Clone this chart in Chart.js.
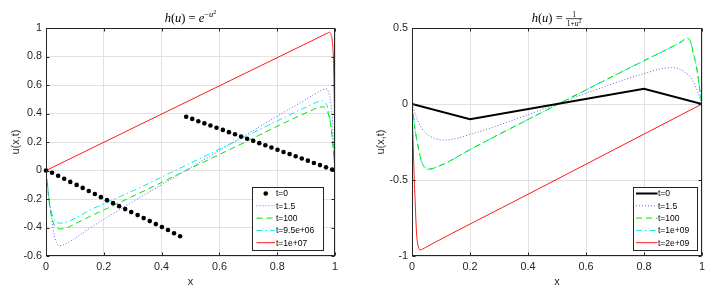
<!DOCTYPE html>
<html lang="en">
<head>
<meta charset="UTF-8" />
<title>u(x,t) profiles</title>
<script src="https://cdn.jsdelivr.net/npm/chart.js"></script>
<style>
  html, body { margin: 0; padding: 0; background: #fff; }
  .row { display: flex; width: 720px; height: 293px; }
  .row canvas { display: block; }
</style>
</head>
<body>
<div class="row">
  <canvas id="leftChart" width="360" height="293"></canvas>
  <canvas id="rightChart" width="360" height="293"></canvas>
</div>
<script>
// ---- axes ----
const xTicks = [0, 0.2, 0.4, 0.6, 0.8, 1];
const xTickLabels = ["0", "0.2", "0.4", "0.6", "0.8", "1"];
const yTicksLeft = [-0.6, -0.4, -0.2, 0, 0.2, 0.4, 0.6, 0.8, 1];
const yTickLabelsLeft = ["-0.6", "-0.4", "-0.2", "0", "0.2", "0.4", "0.6", "0.8", "1"];
const yTicksRight = [-1, -0.5, 0, 0.5];
const yTickLabelsRight = ["-1", "-0.5", "0", "0.5"];

const labelsLeft = ["t=0", "t=1.5", "t=100", "t=9.5e+06", "t=1e+07"];
const labelsRight = ["t=0", "t=1.5", "t=100", "t=1e+09", "t=2e+09"];

// ---- left panel, h(u) = exp(-u^2) ----
const l0X = [0, 0.021, 0.042, 0.063, 0.084, 0.106, 0.127, 0.148, 0.169, 0.19, 0.211, 0.232, 0.253, 0.274, 0.295, 0.317, 0.338, 0.359, 0.38, 0.401, 0.422, 0.443, 0.464,
             0.485, 0.506, 0.527, 0.548, 0.569, 0.59, 0.612, 0.633, 0.654, 0.675, 0.696, 0.717, 0.738, 0.759, 0.78, 0.801, 0.822, 0.843, 0.864, 0.885, 0.906, 0.927, 0.948, 0.969, 0.99];
const l0Y = [0, -0.016, -0.037, -0.058, -0.08, -0.101, -0.122, -0.144, -0.165, -0.187, -0.208, -0.229, -0.25, -0.271, -0.292, -0.313, -0.334, -0.355, -0.376, -0.397, -0.418, -0.44, -0.461,
             0.377, 0.362, 0.346, 0.331, 0.316, 0.3, 0.285, 0.269, 0.254, 0.238, 0.223, 0.208, 0.192, 0.177, 0.161, 0.146, 0.13, 0.115, 0.1, 0.084, 0.069, 0.053, 0.038, 0.022, 0.007];

const l1X = [0, 0.004, 0.011, 0.02, 0.028, 0.036, 0.046, 0.06, 0.075, 0.095, 0.12, 0.152, 0.21, 0.325, 0.5, 0.7, 0.81, 0.9, 0.94, 0.958, 0.968, 0.977, 0.984, 0.99, 0.995, 1];
const l1Y = [0, -0.08, -0.2, -0.34, -0.45, -0.505, -0.527, -0.522, -0.507, -0.482, -0.448, -0.405, -0.33, -0.19, 0.02, 0.26, 0.393, 0.5, 0.548, 0.568, 0.573, 0.555, 0.5, 0.38, 0.2, 0];

const l2X = [0, 0.004, 0.008, 0.014, 0.02, 0.028, 0.038, 0.05, 0.062, 0.08, 0.1, 0.13, 0.17, 0.22, 0.325, 0.5, 0.7, 0.81, 0.9, 0.94, 0.96, 0.97, 0.978, 0.985, 0.991, 0.996, 1];
const l2Y = [0, -0.08, -0.17, -0.27, -0.33, -0.38, -0.403, -0.41, -0.408, -0.395, -0.375, -0.345, -0.305, -0.258, -0.157, 0.015, 0.21, 0.32, 0.405, 0.44, 0.447, 0.43, 0.39, 0.32, 0.22, 0.1, 0];

const l3X = [0, 0.004, 0.008, 0.014, 0.02, 0.028, 0.038, 0.05, 0.065, 0.085, 0.11, 0.15, 0.21, 0.325, 0.5, 0.7, 0.81, 0.9, 0.94, 0.954, 0.965, 0.975, 0.983, 0.99, 0.995, 1];
const l3Y = [0, -0.07, -0.157, -0.24, -0.3, -0.345, -0.365, -0.37, -0.365, -0.35, -0.325, -0.28, -0.225, -0.12, 0.052, 0.249, 0.358, 0.445, 0.482, 0.49, 0.48, 0.44, 0.36, 0.24, 0.12, 0];

const l4X = [0, 0.5, 0.975, 0.98, 0.986, 0.991, 0.995, 0.998, 1];
const l4Y = [0, 0.495, 0.965, 0.97, 0.955, 0.9, 0.75, 0.4, 0];

// ---- right panel, h(u) = 1/(1+u^2) ----
const r0X = [0, 0.2, 0.8, 1];
const r0Y = [0, -0.1, 0.1, 0];

const r1X = [0, 0.01, 0.02, 0.033, 0.056, 0.08, 0.108, 0.14, 0.2, 0.252, 0.35, 0.5, 0.65, 0.748, 0.8, 0.86, 0.895, 0.92, 0.944, 0.959, 0.975, 0.987, 0.995, 1];
const r1Y = [0, -0.06, -0.11, -0.16, -0.204, -0.228, -0.237, -0.232, -0.2, -0.17, -0.105, 0, 0.105, 0.17, 0.2, 0.232, 0.239, 0.232, 0.205, 0.18, 0.13, 0.07, 0.03, 0];

const r2X = [0, 0.005, 0.01, 0.016, 0.022, 0.033, 0.045, 0.056, 0.07, 0.09, 0.12, 0.2, 0.5, 0.8, 0.88, 0.91, 0.93, 0.947, 0.958, 0.965, 0.97, 0.977, 0.984, 0.991, 0.997, 1];
const r2Y = [0, -0.08, -0.16, -0.23, -0.29, -0.38, -0.418, -0.428, -0.425, -0.41, -0.385, -0.3, -0.005, 0.285, 0.36, 0.39, 0.41, 0.432, 0.42, 0.38, 0.333, 0.28, 0.21, 0.114, 0.03, 0];

const r3X = r2X;
const r3Y = [0, -0.08, -0.16, -0.23, -0.29, -0.38, -0.418, -0.429, -0.426, -0.411, -0.386, -0.301, -0.004, 0.286, 0.361, 0.391, 0.411, 0.433, 0.421, 0.381, 0.334, 0.281, 0.211, 0.115, 0.03, 0];

const r4X = [0, 0.003, 0.007, 0.01, 0.016, 0.022, 0.028, 0.036, 0.05, 0.4, 1];
const r4Y = [0, -0.2, -0.45, -0.6, -0.86, -0.94, -0.96, -0.955, -0.94, -0.594, 0];

const ink = "#262626";

function pts(xs, ys) {
  return xs.map((x, i) => ({ x: x, y: ys[i] }));
}

function lineSet(label, xs, ys, color, dash, width, straight) {
  const ds = {
    label: label,
    data: pts(xs, ys),
    showLine: true,
    borderColor: color,
    backgroundColor: color,
    borderWidth: width || 1,
    borderDash: dash || [],
    pointRadius: 0,
  };
  if (straight) ds.tension = 0;
  else ds.cubicInterpolationMode = "monotone";
  return ds;
}

function dotSet(label, xs, ys) {
  return {
    label: label,
    data: pts(xs, ys),
    showLine: false,
    pointRadius: 2.3,
    pointBorderWidth: 0,
    pointBackgroundColor: "#000",
    backgroundColor: "#000",
    borderColor: "#000",
    clip: false,
  };
}

// box, ticks pointing inwards, legend and the TeX-like title
const matlabLook = {
  id: "matlabLook",
  afterDatasetsDraw(chart, args, opts) {
    const ctx = chart.ctx;
    const a = chart.chartArea;
    const sx = chart.scales.x;
    const sy = chart.scales.y;
    ctx.save();
    ctx.strokeStyle = ink;
    ctx.lineWidth = 1;
    ctx.setLineDash([]);
    const L = Math.round(a.left) + 0.5, R = Math.round(a.right) - 0.5;
    const T = Math.round(a.top) + 0.5, B = Math.round(a.bottom) - 0.5;
    ctx.beginPath();
    sx.ticks.forEach((t) => {
      const px = Math.round(sx.getPixelForValue(t.value)) + 0.5;
      ctx.moveTo(px, B); ctx.lineTo(px, B - 3);
      ctx.moveTo(px, T); ctx.lineTo(px, T + 3);
    });
    sy.ticks.forEach((t) => {
      const py = Math.round(sy.getPixelForValue(t.value)) + 0.5;
      ctx.moveTo(L, py); ctx.lineTo(L + 3, py);
      ctx.moveTo(R, py); ctx.lineTo(R - 3, py);
    });
    ctx.stroke();
    ctx.strokeRect(L, T, R - L, B - T);

    // legend
    const lg = opts.legend;
    ctx.fillStyle = "#fff";
    ctx.fillRect(lg.x, lg.y, lg.w, lg.h);
    ctx.strokeStyle = ink;
    ctx.strokeRect(lg.x + 0.5, lg.y + 0.5, lg.w, lg.h);
    ctx.font = '8.5px "Liberation Sans", Arial, sans-serif';
    ctx.textBaseline = "middle";
    chart.data.datasets.forEach((ds, i) => {
      const y = lg.y + lg.row0 + i * lg.step;
      if (ds.showLine) {
        ctx.strokeStyle = ds.borderColor;
        ctx.lineWidth = ds.borderWidth;
        ctx.setLineDash(ds.borderDash);
        ctx.beginPath();
        ctx.moveTo(lg.x + lg.l0, y);
        ctx.lineTo(lg.x + lg.l1, y);
        ctx.stroke();
        ctx.setLineDash([]);
      } else {
        ctx.fillStyle = "#000";
        ctx.beginPath();
        ctx.arc(lg.x + (lg.l0 + lg.l1) / 2, y, 2.3, 0, Math.PI * 2);
        ctx.fill();
      }
      ctx.fillStyle = "#000";
      ctx.fillText(ds.label, lg.x + lg.tx, y + 0.5);
    });

    // title
    drawMath(ctx, opts.title, (a.left + a.right) / 2, 22);
    ctx.restore();
  },
};

function fontOf(p) {
  return (p.it ? "italic " : "") + p.s + 'px "Liberation Serif", "Times New Roman", serif';
}

function runWidth(ctx, parts) {
  let w = 0;
  parts.forEach((p) => {
    ctx.font = fontOf(p);
    w += ctx.measureText(p.t).width;
  });
  return w;
}

function drawRun(ctx, parts, x, y) {
  parts.forEach((p) => {
    ctx.font = fontOf(p);
    ctx.fillText(p.t, x, y + (p.dy || 0));
    x += ctx.measureText(p.t).width;
  });
  return x;
}

function drawMath(ctx, parts, cx, base) {
  ctx.fillStyle = "#000";
  ctx.textBaseline = "alphabetic";
  let total = 0;
  parts.forEach((p) => {
    if (p.frac) total += Math.max(runWidth(ctx, p.frac.num), runWidth(ctx, p.frac.den)) + 2;
    else total += runWidth(ctx, [p]);
  });
  let x = cx - total / 2;
  parts.forEach((p) => {
    if (p.frac) {
      const nw = runWidth(ctx, p.frac.num), dw = runWidth(ctx, p.frac.den);
      const w = Math.max(nw, dw) + 2;
      drawRun(ctx, p.frac.num, x + (w - nw) / 2, base - 4.6);
      drawRun(ctx, p.frac.den, x + (w - dw) / 2, base + 3.8);
      ctx.fillRect(x, base - 3.6, w, 0.7);
      x += w;
    } else {
      x = drawRun(ctx, [p], x, base);
    }
  });
}

const titleLeft = [
  { t: "h", it: 1, s: 12.5 }, { t: "(", s: 12.5 }, { t: "u", it: 1, s: 12.5 }, { t: ")", s: 12.5 },
  { t: " = ", s: 12.5 }, { t: "e", it: 1, s: 12.5 },
  { t: "\u2212", s: 8.5, dy: -5 }, { t: "u", it: 1, s: 8.5, dy: -5 }, { t: "2", s: 6, dy: -8 },
];
const titleRight = [
  { t: "h", it: 1, s: 12.5 }, { t: "(", s: 12.5 }, { t: "u", it: 1, s: 12.5 }, { t: ")", s: 12.5 },
  { t: " = ", s: 12.5 },
  { frac: {
      num: [{ t: "1", s: 7.5 }],
      den: [{ t: "1+", s: 7.5 }, { t: "u", it: 1, s: 7.5 }, { t: "2", s: 5.5, dy: -2.8 }],
  } },
];

const tickFont = { family: '"Liberation Sans", Arial, sans-serif', size: 10.8 };
const labelFont = { family: '"Liberation Sans", Arial, sans-serif', size: 11 };

function makeChart(id, datasets, yMin, yMax, yTicks, yLabels, axisW, padRight, titlePad, legend, title) {
  return new Chart(document.getElementById(id), {
    type: "scatter",
    data: { datasets: datasets },
    plugins: [matlabLook],
    options: {
      responsive: false,
      animation: false,
      layout: { padding: { top: 28, right: padRight, left: 0, bottom: 0 } },
      plugins: {
        legend: { display: false },
        tooltip: { enabled: false },
        matlabLook: { legend: legend, title: title },
      },
      scales: {
        x: {
          type: "linear",
          min: 0,
          max: 1,
          afterBuildTicks: (s) => { s.ticks = xTicks.map((v) => ({ value: v })); },
          afterFit: (s) => { s.height = 37; },
          ticks: {
            callback: (v) => xTickLabels[xTicks.indexOf(v)],
            color: ink,
            font: tickFont,
            padding: 5,
            maxRotation: 0,
            autoSkip: false,
          },
          grid: { color: "#e1e1e1", drawTicks: false },
          border: { display: false },
          title: { display: true, text: "x", color: ink, font: labelFont, padding: { top: 0, bottom: 4 } },
        },
        y: {
          type: "linear",
          min: yMin,
          max: yMax,
          afterBuildTicks: (s) => { s.ticks = yTicks.map((v) => ({ value: v })); },
          afterFit: (s) => { s.width = axisW; },
          ticks: {
            callback: (v) => yLabels[yTicks.indexOf(v)],
            color: ink,
            font: tickFont,
            padding: 4,
            autoSkip: false,
          },
          grid: { color: "#e1e1e1", drawTicks: false },
          border: { display: false },
          title: { display: true, text: "u(x,t)", color: ink, font: labelFont, padding: { top: titlePad, bottom: 0 } },
        },
      },
    },
  });
}

makeChart(
  "leftChart",
  [
    dotSet(labelsLeft[0], l0X, l0Y),
    lineSet(labelsLeft[1], l1X, l1Y, "#6464ff", [1, 2]),
    lineSet(labelsLeft[2], l2X, l2Y, "#00e600", [6, 4]),
    lineSet(labelsLeft[3], l3X, l3Y, "#00f0f0", [6, 3, 1.5, 3]),
    lineSet(labelsLeft[4], l4X, l4Y, "#ff1a1a", []),
  ],
  -0.6, 1, yTicksLeft, yTickLabelsLeft, 46, 25, 9.4,
  { x: 252, y: 187, w: 71, h: 63, row0: 6.5, step: 12.3, l0: 4.5, l1: 23, tx: 24 },
  titleLeft
);

makeChart(
  "rightChart",
  [
    lineSet(labelsRight[0], r0X, r0Y, "#000", [], 2, true),
    lineSet(labelsRight[1], r1X, r1Y, "#6464ff", [1, 2]),
    lineSet(labelsRight[2], r2X, r2Y, "#00e600", [6, 4]),
    lineSet(labelsRight[3], r3X, r3Y, "#00f0f0", [6, 3, 1.5, 3]),
    lineSet(labelsRight[4], r4X, r4Y, "#ff1a1a", []),
  ],
  -1, 0.5, yTicksRight, yTickLabelsRight, 52, 18, 14.4,
  { x: 273, y: 187, w: 64, h: 63, row0: 6.5, step: 12.3, l0: 3, l1: 24.5, tx: 25 },
  titleRight
);
</script>
</body>
</html>
